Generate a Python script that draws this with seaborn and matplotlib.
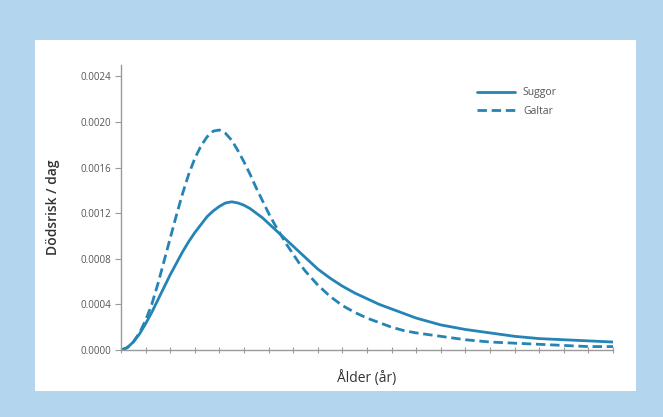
import pandas as pd
import matplotlib
matplotlib.use("Agg")
import matplotlib.pyplot as plt
import seaborn as sns

# values (age in years, risk per day)
ages = [0.0, 0.25, 0.5, 0.75, 1.0, 1.25, 1.5, 1.75, 2.0, 2.25, 2.5, 2.75,
        3.0, 3.25, 3.5, 3.75, 4.0, 4.25, 4.5, 4.75, 5.0, 5.25, 5.5, 5.75,
        6.0, 6.25, 6.5, 6.75, 7.0, 7.25, 7.5, 7.75, 8.0, 8.5, 9.0, 9.5,
        10.0, 10.5, 11.0, 11.5, 12.0, 13.0, 14.0, 15.0, 16.0, 17.0, 18.0,
        19.0, 20.0]
suggor = [0.0, 0.00002, 0.00007, 0.00014, 0.00023, 0.00033, 0.00044, 0.00055,
          0.00066, 0.00076, 0.00086, 0.00095, 0.00103, 0.00110, 0.00117,
          0.00122, 0.00126, 0.00129, 0.00130, 0.00129, 0.00127, 0.00124,
          0.00120, 0.00116, 0.00111, 0.00106, 0.00101, 0.00096, 0.00091,
          0.00086, 0.00081, 0.00076, 0.00071, 0.00063, 0.00056, 0.00050,
          0.00045, 0.00040, 0.00036, 0.00032, 0.00028, 0.00022, 0.00018,
          0.00015, 0.00012, 0.00010, 0.00009, 0.00008, 0.00007]
galtar = [0.0, 0.00002, 0.00007, 0.00015, 0.00026, 0.00040, 0.00058, 0.00078,
          0.00098, 0.00118, 0.00137, 0.00154, 0.00168, 0.00179, 0.00187,
          0.00192, 0.00193, 0.00190, 0.00184, 0.00175, 0.00165, 0.00154,
          0.00142, 0.00131, 0.00120, 0.00110, 0.00101, 0.00092, 0.00084,
          0.00076, 0.00069, 0.00063, 0.00057, 0.00047, 0.00039, 0.00033,
          0.00028, 0.00024, 0.00020, 0.00017, 0.00015, 0.00012, 0.00009,
          0.00007, 0.00006, 0.00005, 0.00004, 0.00003, 0.00003]
series_names = ["Suggor", "Galtar"]
y_ticks = [0.0, 0.0004, 0.0008, 0.0012, 0.0016, 0.0020, 0.0024]
x_ticks = list(range(0, 21))

df = pd.concat([
    pd.DataFrame({"age": ages, "risk": suggor, "grupp": series_names[0]}),
    pd.DataFrame({"age": ages, "risk": galtar, "grupp": series_names[1]}),
])

sns.set_style("white")
plt.rcParams["font.family"] = ["Open Sans", "DejaVu Sans"]

line_col = "#2484b6"
grey = "#9a9a9a"

fig = plt.figure(figsize=(6.63, 4.17), dpi=100)
fig.patch.set_facecolor("#b3d5ee")

# white panel behind the plot
panel = fig.add_axes([35 / 663, 1 - 391 / 417, 601 / 663, 351 / 417])
panel.set_facecolor("white")
panel.set_xticks([])
panel.set_yticks([])
for s in panel.spines.values():
    s.set_visible(False)

ax = fig.add_axes([121 / 663, 1 - 350 / 417, 492 / 663, 285 / 417])
ax.set_facecolor("none")

sns.lineplot(data=df, x="age", y="risk", style="grupp",
             dashes={"Suggor": "", "Galtar": (3.4, 1.7)},
             color=line_col, linewidth=2.0, ax=ax)

ax.set_xlim(0, 20)
ax.set_ylim(0, 0.0025)
ax.set_xticks(x_ticks)
ax.set_xticklabels([])
ax.set_yticks(y_ticks)
ax.set_yticklabels([f"{v:.4f}" for v in y_ticks], fontsize=7, color="#555555")

ax.tick_params(axis="x", direction="inout", length=4, width=0.8, color=grey,
               bottom=True)
ax.tick_params(axis="y", direction="out", length=4, width=0.8, color=grey,
               left=True, pad=3)

sns.despine(ax=ax)
for side in ["left", "bottom"]:
    ax.spines[side].set_color(grey)
    ax.spines[side].set_linewidth(1.0)

ax.set_xlabel("Ålder (år)", fontsize=10, color="#333333", labelpad=9)
ax.set_ylabel("Dödsrisk / dag", fontsize=10, color="#333333", labelpad=15,
              fontweight="semibold")

leg = ax.legend(title=None, frameon=False, fontsize=7.5, handlelength=3.6,
                loc="upper right", bbox_to_anchor=(0.905, 0.955),
                labelspacing=0.75)
for txt in leg.get_texts():
    txt.set_color("#555555")

fig.savefig("out.png", dpi=100, facecolor=fig.get_facecolor())
